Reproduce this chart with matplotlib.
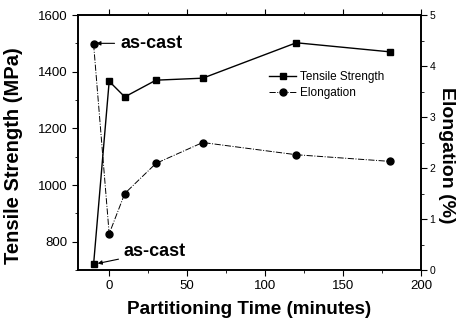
import numpy as np
import matplotlib.pyplot as plt
from matplotlib.ticker import MultipleLocator

plt.rcParams['font.family'] = ['Liberation Sans', 'DejaVu Sans']

# partitioning time in minutes (-10 stands for the as-cast state)
time_min = [-10, 0, 10, 30, 60, 120, 180]
tensile_mpa = [720, 1366, 1311, 1370, 1377, 1502, 1470]
elongation_pct = [4.43, 0.71, 1.50, 2.09, 2.50, 2.26, 2.13]

fig = plt.figure(figsize=(4.57, 3.24), dpi=100)
ax = fig.add_axes([78 / 457, 1 - 270 / 324, 343 / 457, 255 / 324])
ax2 = ax.twinx()

l1, = ax.plot(time_min, tensile_mpa, 'k-', marker='s', markersize=5, lw=1.0,
              label='Tensile Strength')
l2, = ax2.plot(time_min, elongation_pct, 'k-.', marker='o', markersize=5, lw=0.7,
               label='Elongation')

ax.set_xlim(-20, 200)
ax.set_ylim(700, 1600)
ax2.set_ylim(0, 5)

ax.xaxis.set_major_locator(MultipleLocator(50))
ax.xaxis.set_minor_locator(MultipleLocator(25))
ax.yaxis.set_major_locator(MultipleLocator(200))
ax.yaxis.set_minor_locator(MultipleLocator(100))
ax2.yaxis.set_major_locator(MultipleLocator(1))
ax2.yaxis.set_minor_locator(MultipleLocator(0.5))

ax.tick_params(axis='x', which='both', top=True, direction='out', labelsize=9.5)
ax.tick_params(axis='y', which='both', direction='out', labelsize=9.5)
ax.tick_params(which='major', length=4)
ax.tick_params(which='minor', length=2.5)
ax2.tick_params(axis='y', which='both', direction='out', labelsize=7.5, pad=2)
ax2.tick_params(which='major', length=4)
ax2.tick_params(which='minor', length=2.5)

for a in (ax, ax2):
    for s in a.spines.values():
        s.set_linewidth(1.2)

ax.set_xlabel('Partitioning Time (minutes)', fontsize=13.6, fontweight='bold', labelpad=6)
ax.set_ylabel('Tensile Strength (MPa)', fontsize=14.5, fontweight='bold')
ax.yaxis.set_label_coords(-0.16, 0.45)
ax2.set_ylabel('Elongation (%)', fontsize=14, fontweight='bold', rotation=270)
ax2.yaxis.set_label_coords(1.10, 0.45)

ax.annotate('as-cast', xy=(time_min[0], 1500), xytext=(7, 1500),
            fontsize=13, fontweight='bold', va='center', ha='left',
            arrowprops=dict(arrowstyle='-|>', color='k', lw=0.8, mutation_scale=6))
ax.annotate('as-cast', xy=(time_min[0], tensile_mpa[0]), xytext=(9.5, 765),
            fontsize=13, fontweight='bold', va='center', ha='left',
            arrowprops=dict(arrowstyle='-|>', color='k', lw=0.8, mutation_scale=6,
                            shrinkB=3))

ax2.legend([l1, l2], ['Tensile Strength', 'Elongation'], loc='upper left',
           bbox_to_anchor=(0.557, 0.78), frameon=False, fontsize=8.5,
           borderpad=0, borderaxespad=0,
           handlelength=2.3, handletextpad=0.3, labelspacing=0.3)

fig.savefig('out.png', dpi=100)
